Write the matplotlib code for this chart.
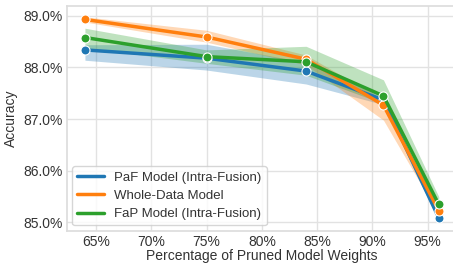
import matplotlib
matplotlib.use("Agg")
import matplotlib.pyplot as plt
import seaborn as sns
import numpy as np
from matplotlib.ticker import FuncFormatter

sns.set_theme(style="whitegrid")
plt.rcParams['font.family'] = ['Liberation Sans', 'DejaVu Sans']

pruned = [64, 75, 84, 91, 96]
xticks = [65, 70, 75, 80, 85, 90, 95]

paf_mean = [88.34, 88.18, 87.93, 87.37, 85.09]
paf_low = [88.14, 87.95, 87.68, 87.28, 85.02]
paf_high = [88.44, 88.45, 88.10, 87.45, 85.16]

whole_mean = [88.93, 88.59, 88.16, 87.27, 85.23]
whole_low = [88.88, 88.49, 88.05, 86.98, 85.15]
whole_high = [88.98, 88.72, 88.24, 87.38, 85.30]

fap_mean = [88.58, 88.21, 88.11, 87.45, 85.35]
fap_low = [88.38, 88.08, 87.85, 87.30, 85.25]
fap_high = [88.76, 88.34, 88.41, 87.76, 85.50]

labels = ["PaF Model (Intra-Fusion)", "Whole-Data Model", "FaP Model (Intra-Fusion)"]
colors = ["#1f77b4", "#ff7f0e", "#2ca02c"]
series = [(paf_mean, paf_low, paf_high), (whole_mean, whole_low, whole_high), (fap_mean, fap_low, fap_high)]

fig = plt.figure(figsize=(4.53, 2.64), dpi=100)
ax = fig.add_axes([66.7 / 453, 33.3 / 264, 1 - 66.7 / 453 + 0.01, (258 - 33.3) / 264])
for (m, lo, hi), c, lab in zip(series, colors, labels):
    ax.fill_between(pruned, lo, hi, color=c, alpha=0.3, linewidth=0)
    ax.plot(pruned, m, color=c, linewidth=2.5, label=lab)
    ax.plot(pruned, m, linestyle='none', marker='o', markersize=6.5, color=c,
            markeredgecolor='white', markeredgewidth=0.8)

ax.set_xticks(xticks)
ax.set_xticklabels([f"{v}%" for v in xticks])
ax.yaxis.set_major_formatter(FuncFormatter(lambda v, p: f"{v:.1f}%"))
ax.set_yticks([85, 86, 87, 88, 89])
ax.set_xlim(62.35, 97.7)
ax.set_ylim(84.84, 89.19)
ax.tick_params(labelsize=10, length=0, pad=3, colors='#333333')
ax.set_xlabel("Percentage of Pruned Model Weights", fontsize=10, labelpad=0, color='#333333')
ax.set_ylabel("Accuracy", fontsize=10, labelpad=4, color='#333333')
for s in ax.spines.values():
    s.set_color('#dddddd')
ax.grid(color='#e2e2e2')
leg = ax.legend(loc="lower left", fontsize=9.5, frameon=True, handlelength=2.0,
                labelspacing=0.45, borderaxespad=0.4)
for t in leg.get_texts():
    t.set_color('#333333')
fig.savefig("out.png", dpi=100)
